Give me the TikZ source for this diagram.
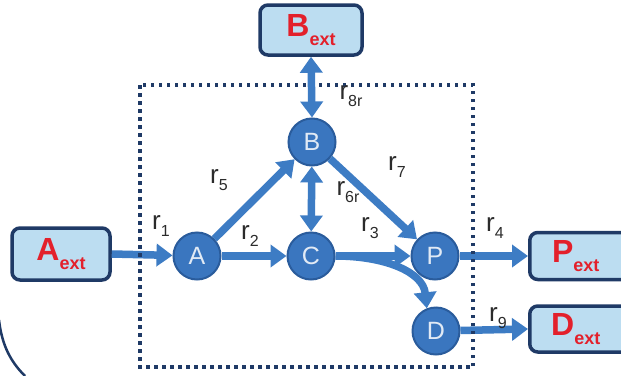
\documentclass[tikz,border=0pt]{standalone}
\usepackage{fontspec}
\setmainfont{Liberation Sans}
\usetikzlibrary{arrows.meta}
\definecolor{navy}{HTML}{1F3A66}
\definecolor{boxfill}{HTML}{BCDDF1}
\definecolor{arrowblue}{HTML}{3D7CC4}
\definecolor{circfill}{HTML}{3A76BF}
\definecolor{circline}{HTML}{2A5C9C}
\definecolor{extred}{HTML}{E3202B}
\definecolor{labgray}{HTML}{2B2B2B}
\newcommand{\rlab}[1]{r\raisebox{-0.45ex}{\fontsize{16}{16}\selectfont #1}}
\newcommand{\extlab}[1]{\textbf{#1}\raisebox{-0.55ex}{\fontsize{18}{18}\selectfont\textbf{ext}}}
\tikzset{
  state/.style={circle, fill=circfill, draw=circline, line width=2pt, minimum size=47pt, inner sep=0pt,
    text=white!85!circfill, font=\fontsize{25}{25}\selectfont},
  extbox/.style={rectangle, rounded corners=8pt, fill=boxfill, draw=navy, line width=3.5pt,
    text=extred, font=\fontsize{32}{32}\selectfont, inner sep=0pt},
  flow/.style={draw=arrowblue, line width=7.5pt, -{Triangle[length=16pt,width=22pt]}},
  bflow/.style={draw=arrowblue, line width=7.5pt, {Triangle[length=16pt,width=22pt]}-{Triangle[length=16pt,width=22pt]}},
  rl/.style={text=labgray, font=\fontsize{26}{26}\selectfont, inner sep=0pt},
  dotbox/.style={draw=navy, line width=3.5pt, dash pattern=on 3.5pt off 4.5pt}
}
\begin{document}
\begin{tikzpicture}[x=1pt,y=-1pt]
\useasboundingbox[fill=white] (0,0) rectangle (621,375);
% big rounded frame fragment
\draw[navy, line width=2.5pt] (-1,320) .. controls (2,346) and (11,362) .. (25,376);
% nodes
\node[extbox, minimum width=102pt, minimum height=50pt] (Bext) at (311,30) {\extlab{B}};
\node[extbox, minimum width=98pt, minimum height=52pt] (Aext) at (61,254) {\extlab{A}};
\node[extbox, minimum width=100pt, minimum height=47pt, anchor=west] (Pext) at (528,256) {\hspace*{-8pt}\extlab{P}};
\node[extbox, minimum width=100pt, minimum height=46pt, anchor=west] (Dext) at (528,329) {\hspace*{-8pt}\extlab{D}};
\node[state] (A) at (197,256) {A};
\node[state] (B) at (312,142) {B};
\node[state] (C) at (311,256) {C};
\node[state] (P) at (435,256) {P};
\node[state] (D) at (436,331) {D};
% arrows
\draw[flow] (Aext.east) -- (A);
\draw[flow] (A) -- (C);
\draw[flow] (A) -- (B);
\draw[flow] (B) -- (P);
\draw[bflow] (B) -- (C);
\draw[flow] (C) -- (P);
\draw[flow] (C.east) .. controls (385,256) and (423,272) .. (D.112);
\draw[flow] (P) -- (Pext.west);
\draw[flow] (D) -- (Dext.west);
% dotted boundary
\coordinate (tl) at (140,85);
\coordinate (br) at (473,367);
\draw[dotbox] (tl) rectangle (br);
\draw[bflow] (Bext.south) -- (B.north);
% labels
\node[rl] (l1) at (161,226) {\rlab{1}};
\node[rl] (l2) at (250,236) {\rlab{2}};
\node[rl] (l3) at (370,228) {\rlab{3}};
\node[rl] (l4) at (495,228) {\rlab{4}};
\node[rl] (l5) at (219,180) {\rlab{5}};
\node[rl] (l6) at (348,192) {\rlab{6r}};
\node[rl] (l7) at (397,167) {\rlab{7}};
\node[rl] (l8) at (351,96) {\rlab{8r}};
\node[rl] (l9) at (498,318) {\rlab{9}};
\end{tikzpicture}
\end{document}
